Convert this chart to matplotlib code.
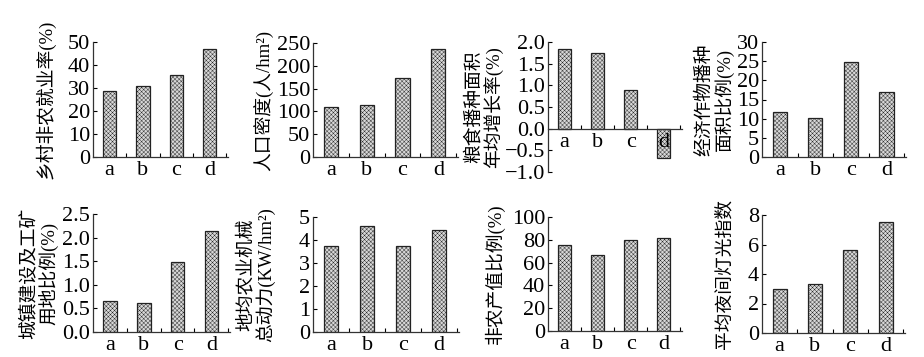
import numpy as np
import matplotlib
matplotlib.use("Agg")
import matplotlib.pyplot as plt

plt.rcParams['font.family'] = ['Liberation Serif', 'Noto Sans CJK SC']
plt.rcParams['hatch.color'] = '#959595'
plt.rcParams['hatch.linewidth'] = 0.3

categories = ['a', 'b', 'c', 'd']

rural_nonfarm = [28.5, 31.0, 35.5, 47.0]
pop_density = [110, 113, 173, 236]
grain_growth = [1.85, 1.75, 0.90, -0.68]
cash_crop = [11.7, 10.3, 24.8, 17.0]
urban_land = [0.66, 0.62, 1.48, 2.14]
machinery = [3.75, 4.60, 3.72, 4.42]
nonfarm_output = [75.5, 67.0, 80.0, 82.0]
night_light = [3.0, 3.3, 5.6, 7.55]

labels = [
    '乡村非农就业率(%)',
    '人口密度(人/hm²)',
    '粮食播种面积\n年均增长率(%)',
    '经济作物播种\n面积比例(%)',
    '城镇建设及工矿\n用地比例(%)',
    '地均农业机械\n总动力(KW/hm²)',
    '非农产值比例(%)',
    '平均夜间灯光指数',
]
series = [rural_nonfarm, pop_density, grain_growth, cash_crop,
          urban_land, machinery, nonfarm_output, night_light]
yticks = [
    np.arange(0, 51, 10),
    np.arange(0, 251, 50),
    np.arange(-1.0, 2.01, 0.5),
    np.arange(0, 31, 5),
    np.arange(0, 2.51, 0.5),
    np.arange(0, 6, 1),
    np.arange(0, 101, 20),
    np.arange(0, 9, 2),
]
fmts = ['{:.0f}', '{:.0f}', '{:.1f}', '{:.0f}', '{:.1f}', '{:.0f}', '{:.0f}', '{:.0f}']

W, H = 924, 357
fig = plt.figure(figsize=(W / 100, H / 100), dpi=100)

# pixel boxes: left, top, right, bottom, label x centre (px)
boxes = [
    (93, 42, 228, 157, 46),
    (313, 43, 458, 157, 264),
    (548, 42, 682, 172, 484),
    (762, 42, 906, 157, 715),
    (93, 214, 230, 332, 39),
    (313, 217, 459, 332, 256),
    (548, 217, 682, 331, 495),
    (762, 215, 905, 333, 725),
]

x = np.arange(len(categories))
for i, (l, t, r, b, lx) in enumerate(boxes):
    ax = fig.add_axes([l / W, 1 - b / H, (r - l) / W, (b - t) / H])
    vals = series[i]
    ax.bar(x, vals, width=0.4, facecolor='#d8d8d8', edgecolor='#222222',
           linewidth=0.9, hatch='xxxxxxxx')
    ticks = yticks[i]
    ax.set_ylim(ticks[0], ticks[-1])
    ax.set_yticks(ticks)
    ax.set_yticklabels([fmts[i].format(v).replace('-', '\u2212') for v in ticks])
    ax.set_xlim(-0.5, 3.55)
    ax.set_xticks(x)
    ax.set_xticklabels(categories)
    ax.set_xticks([0.5, 1.5, 2.5, 3.5], minor=True)
    ax.tick_params(axis='x', which='major', length=0, pad=3, labelsize=16)
    ax.tick_params(axis='x', which='minor', direction='in', length=3, width=0.8)
    ax.tick_params(axis='y', direction='in', length=3, width=0.8, pad=2, labelsize=16)
    for s in ['top', 'right']:
        ax.spines[s].set_visible(False)
    for s in ['left', 'bottom']:
        ax.spines[s].set_linewidth(0.9)
        ax.spines[s].set_color('#333333')
    if ticks[0] < 0:
        ax.spines['bottom'].set_position(('data', 0))
    ax.set_ylabel(labels[i], fontsize=13.5, linespacing=1.0, va='center')
    ax.yaxis.set_label_coords((lx - l) / (r - l), 0.5)

fig.savefig('out.png', dpi=100, facecolor='white')
